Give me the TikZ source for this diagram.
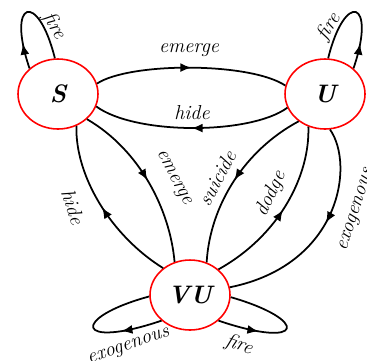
\documentclass[tikz,border=0pt]{standalone}
\usetikzlibrary{arrows.meta,decorations.markings,shapes.geometric}

\begin{document}
\begin{tikzpicture}[x=0.02cm, y=-0.02cm, line width=1pt,
  state/.style={ellipse, draw=red, line width=0.9pt, minimum width=1.6cm, minimum height=1.4cm, inner sep=0pt, font=\Large\bfseries\itshape},
  lbl/.style={font=\fontsize{11.5}{13}\selectfont\itshape, inner sep=1pt},
  midarrow/.style={postaction={decorate}, decoration={markings, mark=at position #1 with {\arrow{Latex[length=2.2mm,width=1.8mm]}}}}]

\useasboundingbox (0,0) rectangle (367,360);

\node[state] (S) at (58,94) {S};
\node[state] (U) at (325,94) {U};
\node[state] (VU) at (190,295) {VU};

\draw[midarrow=0.5] (S.15) .. controls (130,62) and (250,62) .. (U.168);
\draw[midarrow=0.5] (U.200) .. controls (250,135) and (135,135) .. (S.-18);
\draw[midarrow=0.22] (S.138) .. controls (6,0) and (38,-10) .. (S.95);
\draw[midarrow=0.22] (U.42) .. controls (377,0) and (345,-10) .. (U.85);

\draw[midarrow=0.5] (VU.135) .. controls (110,235) and (75,175) .. (S.-60);
\draw[midarrow=0.5] (S.-41) .. controls (140,150) and (170,210) .. (VU.115);
\draw[midarrow=0.5] (U.226) .. controls (245,150) and (210,205) .. (VU.63);
\draw[midarrow=0.5] (VU.42) .. controls (280,235) and (310,175) .. (U.243);
\draw[midarrow=0.45] (U.278) .. controls (355,165) and (340,265) .. (VU.11);
\draw[midarrow=0.3] (VU.222) .. controls (75,350) and (70,318) .. (VU.182);
\draw[midarrow=0.3] (VU.318) .. controls (305,350) and (310,320) .. (VU.357);

\node[lbl] (lemerge) at (189,50) {emerge};
\node[lbl] (lhide) at (192,113) {hide};
\node[lbl, rotate=-60] (lfireS) at (54,26) {fire};
\node[lbl, rotate=58] (lfireU) at (329,27) {fire};
\node[lbl, rotate=-72] (lhideVU) at (73,207) {hide};
\node[lbl, rotate=-62] (lemergeVU) at (173,178) {emerge};
\node[lbl, rotate=62] (lsuicide) at (217,178) {suicide};
\node[lbl, rotate=65] (ldodge) at (271,194) {dodge};
\node[lbl, rotate=72] (lexoU) at (357,210) {exogenous};
\node[lbl, rotate=19] (lexoVU) at (129,347) {exogenous};
\node[lbl, rotate=-20] (lfireVU) at (239,345) {fire};

\end{tikzpicture}
\end{document}
